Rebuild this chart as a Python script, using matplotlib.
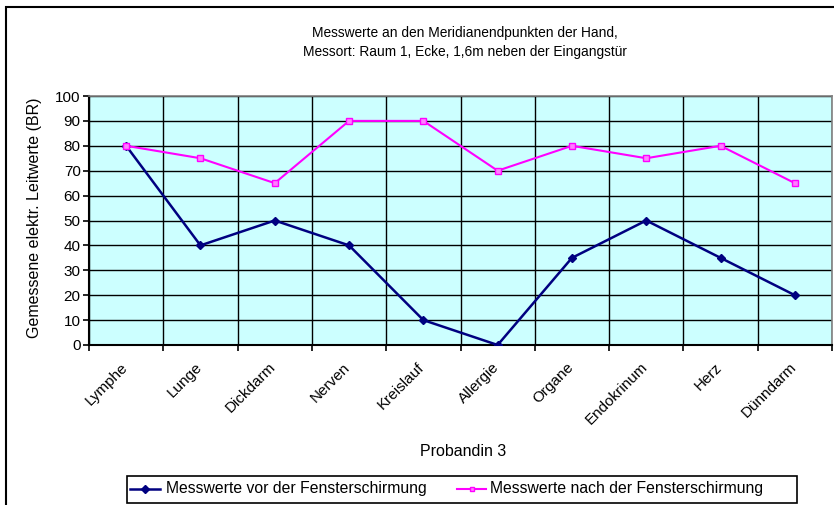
import numpy as np
import matplotlib.pyplot as plt
from matplotlib.patches import Rectangle
from matplotlib.lines import Line2D

plt.rcParams['font.family'] = ['Liberation Sans', 'DejaVu Sans']

categories = ["Lymphe", "Lunge", "Dickdarm", "Nerven", "Kreislauf",
              "Allergie", "Organe", "Endokrinum", "Herz", "Dünndarm"]
vor = [80, 40, 50, 40, 10, 0, 35, 50, 35, 20]
nach = [80, 75, 65, 90, 90, 70, 80, 75, 80, 65]
series_names = ["Messwerte vor der Fensterschirmung", "Messwerte nach der Fensterschirmung"]

W, H = 834, 505
BLUE = "#000080"
PINK = "#FF00FF"

fig = plt.figure(figsize=(W / 100, H / 100), dpi=100)


def fx(px):
    return px / W


def fy(py):
    return 1 - py / H


# outer chart frame (cropped on right and bottom in the original)
fig.patches.append(Rectangle((fx(6), -0.1), 2.0, fy(7) + 0.1, transform=fig.transFigure,
                             fill=False, edgecolor="black", linewidth=1.5))

ax = fig.add_axes([fx(89), fy(345), 743 / W, 249 / H])
ax.set_facecolor("#CCFFFF")

x = np.arange(len(categories))
ax.plot(x, vor, color=BLUE, marker="D", markersize=4.5, linewidth=1.8, zorder=3)
ax.plot(x, nach, color=PINK, marker="s", markersize=4, markerfacecolor="#FF80FF",
        markeredgecolor=PINK, linewidth=1.5, zorder=3)

ax.set_xlim(-0.5, len(categories) - 0.5)
ax.set_ylim(0, 100)
ax.set_yticks(np.arange(0, 101, 10))
ax.set_xticks(np.arange(len(categories) + 1) - 0.5)
ax.set_xticklabels([])
ax.grid(True, color="black", linewidth=1.0)
ax.tick_params(axis="both", direction="out", length=4, width=1.2, labelsize=11)
ax.tick_params(axis="y", pad=2)

for s in ["left", "bottom"]:
    ax.spines[s].set_color("black")
    ax.spines[s].set_linewidth(1.5)
for s in ["top", "right"]:
    ax.spines[s].set_color("#808080")
    ax.spines[s].set_linewidth(1.2)

for i, name in enumerate(categories):
    ax.text(i - 0.08, -6, name, rotation=45, ha="right", va="top",
            rotation_mode="anchor", fontsize=11)

fig.text(fx(465), fy(33), "Messwerte an den Meridianendpunkten der Hand,",
         ha="center", va="center", fontsize=9.9)
fig.text(fx(465), fy(52), "Messort: Raum 1, Ecke, 1,6m neben der Eingangstür",
         ha="center", va="center", fontsize=9.9)
fig.text(fx(463), fy(452), "Probandin 3", ha="center", va="center", fontsize=11.5)
fig.text(fx(35), fy(218), "Gemessene elektr. Leitwerte (BR)", ha="center", va="center",
         rotation=90, fontsize=11.5)

# legend box drawn by hand to keep the original's uneven padding
fig.patches.append(Rectangle((fx(127), fy(503)), (797 - 127) / W, 27 / H, transform=fig.transFigure,
                             facecolor="white", edgecolor="black", linewidth=1.2))
legend_y = fy(489)
fig.add_artist(Line2D([fx(130), fx(160)], [legend_y, legend_y], color=BLUE, linewidth=1.8,
                      transform=fig.transFigure))
fig.add_artist(Line2D([fx(145)], [legend_y], color=BLUE, marker="D", markersize=4,
                      transform=fig.transFigure))
fig.add_artist(Line2D([fx(457), fx(486)], [legend_y, legend_y], color=PINK, linewidth=1.5,
                      transform=fig.transFigure))
fig.add_artist(Line2D([fx(471.5)], [legend_y], color=PINK, marker="s", markersize=3.5,
                      markerfacecolor="#FF80FF", transform=fig.transFigure))
fig.text(fx(166), legend_y, series_names[0], ha="left", va="center", fontsize=11.3)
fig.text(fx(490), legend_y, series_names[1], ha="left", va="center", fontsize=11.3)

fig.savefig("out.png", dpi=100)
